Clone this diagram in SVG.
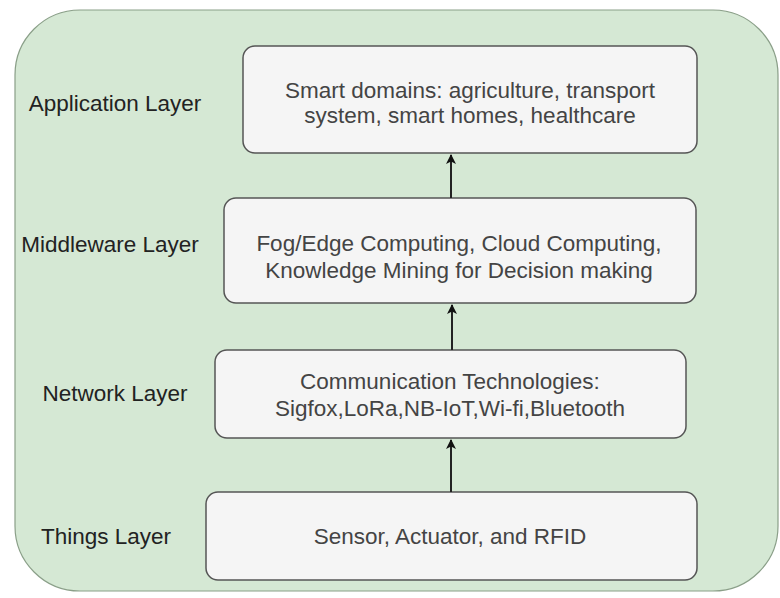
<svg xmlns="http://www.w3.org/2000/svg" width="780" height="598" viewBox="0 0 780 598">
  <defs>
    <marker id="arrow" viewBox="0 0 10 10" refX="9" refY="5" markerWidth="10" markerHeight="10" markerUnits="userSpaceOnUse" orient="auto">
      <path d="M0,0 L10,5 L0,10 L2.5,5 Z" fill="#111"/>
    </marker>
    <style>
      .container { fill: #d5e8d4; stroke: #8a9f88; stroke-width: 1.2; }
      .box { fill: #f5f5f5; stroke: #555; stroke-width: 1.5; }
      .inner { font-family: "Liberation Sans", Arial, sans-serif; font-size: 22.5px; fill: #444; text-anchor: middle; }
      .label { font-family: "Liberation Sans", Arial, sans-serif; font-size: 22.5px; fill: #222; text-anchor: middle; }
      .conn { stroke: #222; stroke-width: 2; fill: none; }
    </style>
  </defs>

  <!-- background container -->
  <rect class="container" x="15" y="10" width="763" height="581" rx="65" ry="65"/>

  <!-- layer labels -->
  <g id="label-application"><text class="label" x="115" y="111">Application Layer</text></g>
  <g id="label-middleware"><text class="label" x="110" y="252">Middleware Layer</text></g>
  <g id="label-network"><text class="label" x="115" y="401">Network Layer</text></g>
  <g id="label-things"><text class="label" x="106" y="544">Things Layer</text></g>

  <!-- layer boxes -->
  <g id="application">
    <rect class="box" x="243" y="46" width="454" height="107" rx="12" ry="12"/>
    <text class="inner" x="470" y="98">Smart domains: agriculture, transport</text>
    <text class="inner" x="470" y="123">system, smart homes, healthcare</text>
  </g>
  <g id="middleware">
    <rect class="box" x="224" y="198" width="472" height="105" rx="12" ry="12"/>
    <text class="inner" x="459" y="251">Fog/Edge Computing, Cloud Computing,</text>
    <text class="inner" x="459" y="278">Knowledge Mining for Decision making</text>
  </g>
  <g id="network">
    <rect class="box" x="215" y="350" width="471" height="88" rx="12" ry="12"/>
    <text class="inner" x="450" y="389">Communication Technologies:</text>
    <text class="inner" x="450" y="416">Sigfox,LoRa,NB-IoT,Wi-fi,Bluetooth</text>
  </g>
  <g id="things">
    <rect class="box" x="206" y="492" width="491" height="88" rx="12" ry="12"/>
    <text class="inner" x="450" y="544">Sensor, Actuator, and RFID</text>
  </g>

  <!-- connectors -->
  <g id="connectors">
    <line class="conn" x1="451" y1="198" x2="451" y2="155" marker-end="url(#arrow)"/>
    <line class="conn" x1="452" y1="350" x2="452" y2="305" marker-end="url(#arrow)"/>
    <line class="conn" x1="451" y1="492" x2="451" y2="440" marker-end="url(#arrow)"/>
  </g>
</svg>
